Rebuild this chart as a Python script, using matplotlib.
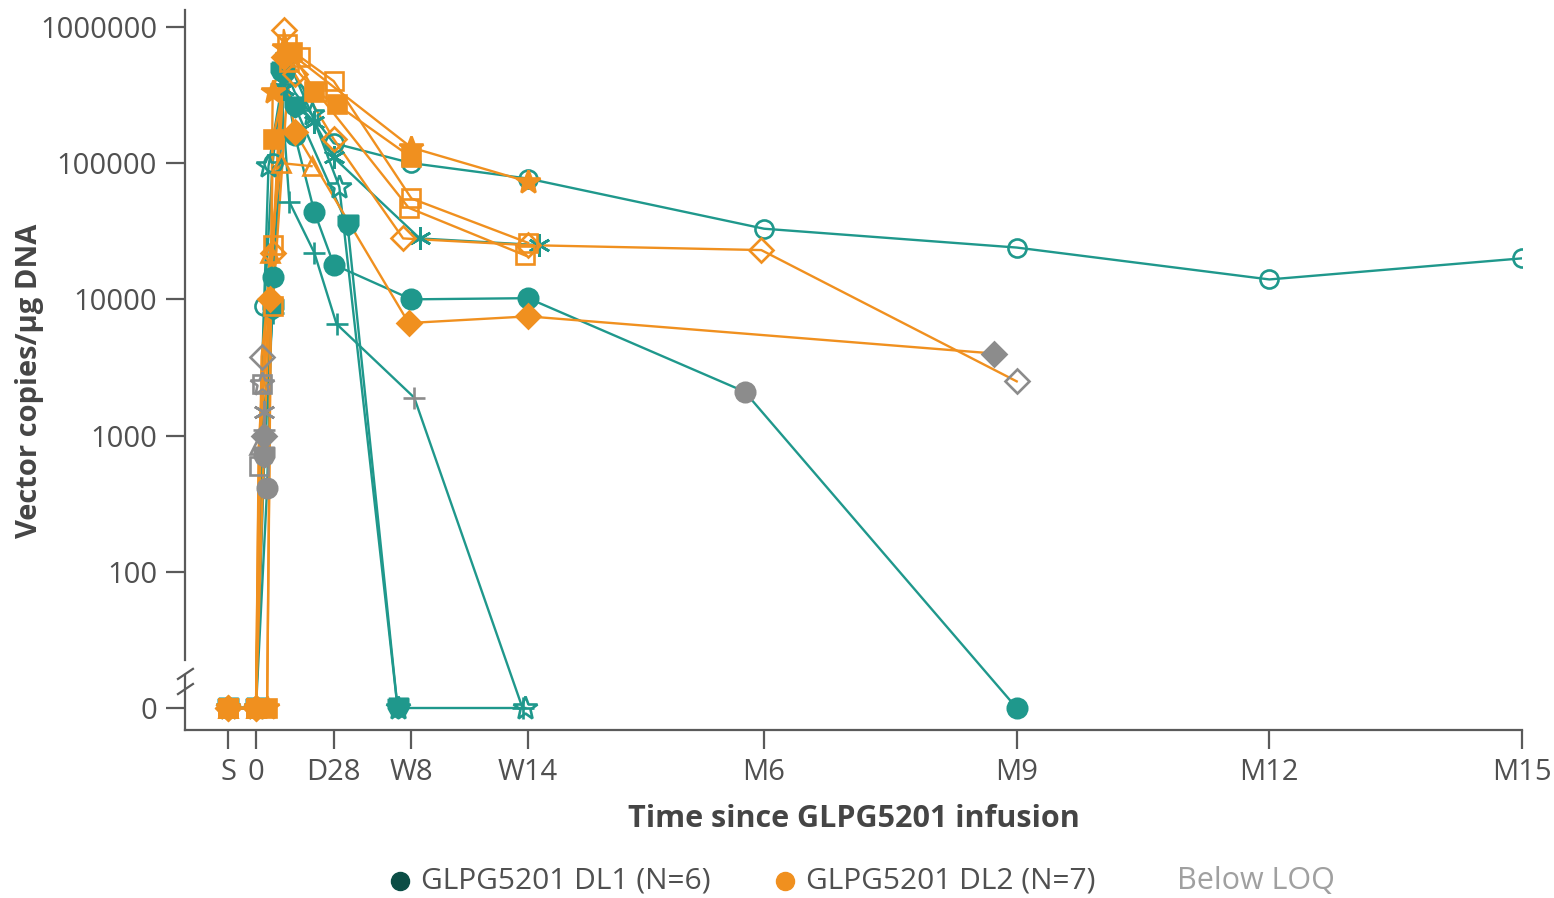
import numpy as np
import matplotlib
matplotlib.use("Agg")
import matplotlib.pyplot as plt
from matplotlib.lines import Line2D

plt.rcParams['font.family'] = ['Open Sans', 'DejaVu Sans']

# time axis: days since infusion (S = screening)
tick_days = [-10, 0, 28, 56, 98, 183, 274, 365, 456]
tick_names = ['S', '0', 'D28', 'W8', 'W14', 'M6', 'M9', 'M12', 'M15']
ytick_vals = [10, 100, 1000, 10000, 100000, 1000000]
ytick_names = ['0', '100', '1000', '10000', '100000', '1000000']

# DL1 subjects (teal)
dl1_ocircle_days = [-10, 0, 3, 6, 10, 14, 28, 56, 98, 183, 274, 365, 456]
dl1_ocircle_vals = [0, 0, 9000, 100000, 520000, 330000, 140000, 100000, 77000, 33000, 24000, 14000, 20000]
dl1_ocircle_loq = []

dl1_fcircle_days = [-10, 0, 4, 6, 10, 14, 21, 28, 56, 98, 176, 274]
dl1_fcircle_vals = [0, 0, 410, 14500, 470000, 160000, 44000, 18000, 10000, 10200, 2100, 0]
dl1_fcircle_loq = [2, 10]

dl1_star_days = [-10, 0, 2, 4.5, 11, 20, 30, 51, 97]
dl1_star_vals = [0, 0, 2400, 95000, 600000, 230000, 67000, 0, 0]
dl1_star_loq = [2]

dl1_plus_days = [-10, 0, 3, 6, 9, 12, 21, 29, 57, 96]
dl1_plus_vals = [0, 0, 1100, 8000, 380000, 52000, 22000, 6600, 1900, 0]
dl1_plus_loq = [2, 8]

dl1_ast_days = [-10, 0, 3, 6, 10, 21, 28, 59, 102]
dl1_ast_vals = [0, 0, 1500, 9000, 350000, 200000, 110000, 28000, 25000]
dl1_ast_loq = [2]

dl1_shield_days = [-10, 0, 3, 6, 9, 14, 33, 51]
dl1_shield_vals = [0, 0, 700, 8500, 470000, 260000, 35000, 0]
dl1_shield_loq = [2]

# DL2 subjects (orange)
dl2_odiamond_days = [-10, 0, 2, 6, 10, 14, 28, 53, 98, 182, 274]
dl2_odiamond_vals = [0, 0, 3800, 22000, 950000, 450000, 150000, 28000, 25000, 23000, 2500]
dl2_odiamond_loq = [2, 10]

dl2_fdiamond_days = [-10, 0, 3, 5, 10, 14, 55, 98, 266]
dl2_fdiamond_vals = [0, 0, 1000, 10000, 600000, 170000, 6700, 7500, 4000]
dl2_fdiamond_loq = [2, 8]

dl2_osquare_days = [-10, 0, 1, 6, 11, 16, 28, 56, 98]
dl2_osquare_vals = [0, 0, 600, 25000, 750000, 600000, 400000, 55000, 26000]
dl2_osquare_loq = [2]

dl2_osquare2_days = [-10, 0, 2, 6, 12, 22, 55, 97]
dl2_osquare2_vals = [0, 0, 2400, 9000, 550000, 330000, 47000, 21000]
dl2_osquare2_loq = [2]

dl2_fsquare_days = [-10, 0, 4, 6, 13, 21, 29, 56]
dl2_fsquare_vals = [0, 0, 0, 150000, 650000, 340000, 270000, 110000]
dl2_fsquare_loq = []

dl2_fstar_days = [-10, 0, 4, 6, 10, 56, 98]
dl2_fstar_vals = [0, 0, 0, 330000, 700000, 130000, 73000]
dl2_fstar_loq = []

dl2_otri_days = [-10, 0, 1, 5, 9, 20]
dl2_otri_vals = [0, 0, 850, 22000, 100000, 95000]
dl2_otri_loq = [2]

teal = '#1f988c'
orange = '#f0901f'
gray = '#8c8c8c'
txt = '#505050'

shield = [(-1, 1), (1, 1), (1, 0), (0.7, -0.55), (0, -1), (-0.7, -0.55), (-1, 0), (-1, 1)]

dl1 = [
    (dl1_ocircle_days, dl1_ocircle_vals, dl1_ocircle_loq, 'o', False, 13),
    (dl1_fcircle_days, dl1_fcircle_vals, dl1_fcircle_loq, 'o', True, 14),
    (dl1_star_days, dl1_star_vals, dl1_star_loq, '*', False, 18),
    (dl1_plus_days, dl1_plus_vals, dl1_plus_loq, '+', True, 16),
    (dl1_ast_days, dl1_ast_vals, dl1_ast_loq, (6, 2, 0), True, 16),
    (dl1_shield_days, dl1_shield_vals, dl1_shield_loq, shield, True, 14),
]
dl2 = [
    (dl2_odiamond_days, dl2_odiamond_vals, dl2_odiamond_loq, 'D', False, 12),
    (dl2_fdiamond_days, dl2_fdiamond_vals, dl2_fdiamond_loq, 'D', True, 12),
    (dl2_osquare_days, dl2_osquare_vals, dl2_osquare_loq, 's', False, 13),
    (dl2_osquare2_days, dl2_osquare2_vals, dl2_osquare2_loq, 's', False, 13),
    (dl2_fsquare_days, dl2_fsquare_vals, dl2_fsquare_loq, 's', True, 13),
    (dl2_fstar_days, dl2_fstar_vals, dl2_fstar_loq, '*', True, 18),
    (dl2_otri_days, dl2_otri_vals, dl2_otri_loq, '^', False, 13),
]

fig = plt.figure(figsize=(15.54, 8.98), dpi=100)
ax = fig.add_axes([0.119, 0.187, 0.8604, 0.802])
ax.set_yscale('log')


def draw(group, color):
    for days, vals, loq, mk, filled, ms in group:
        d = np.array(days, dtype=float)
        v = np.array(vals, dtype=float)
        v = np.where(v == 0, 10, v)  # zero drawn below the axis break
        ax.plot(d, v, color=color, lw=1.7, zorder=2)
        ok = np.array([i not in loq for i in range(len(d))])
        for mask, c in ((ok, color), (~ok, gray)):
            if not mask.any():
                continue
            ax.plot(d[mask], v[mask], ls='none', marker=mk, ms=ms,
                    mec=c, mfc=c if filled else 'none', mew=1.9, zorder=3)


draw(dl1, teal)
draw(dl2, orange)

ax.set_xlim(-25.6, 456)
ax.set_ylim(10 ** 0.838, 10 ** 6.125)
ax.set_xticks(tick_days)
ax.set_xticklabels(tick_names)
ax.set_yticks(ytick_vals)
ax.set_yticklabels(ytick_names)
ax.yaxis.set_minor_locator(matplotlib.ticker.NullLocator())
ax.tick_params(axis='both', length=14, width=1.6, color='#5a5a5a',
               labelsize=21, labelcolor=txt, pad=6)
for s in ('top', 'right', 'left'):
    ax.spines[s].set_visible(False)
ax.spines['bottom'].set_color('#5a5a5a')
ax.spines['bottom'].set_linewidth(1.6)

# left spine with break
tr = ax.transAxes
ax.plot([0, 0], [0, 0.077], transform=tr, color='#5a5a5a', lw=1.6, clip_on=False)
ax.plot([0, 0], [0.097, 1.0], transform=tr, color='#5a5a5a', lw=1.6, clip_on=False)
for y0 in (0.071, 0.050):
    ax.plot([-0.0052, 0.0060], [y0, y0 + 0.014], transform=tr, color='#5a5a5a',
            lw=1.6, clip_on=False)

fig.text(30 / 1554, 1 - 381 / 898, 'Vector copies/µg DNA', rotation=90,
         ha='center', va='center', fontsize=21, fontweight='bold', color='#454545')
fig.text(854 / 1554, 1 - 819 / 898, 'Time since GLPG5201 infusion',
         ha='center', va='center', fontsize=22, fontweight='bold', color='#454545')

# legend
ly = 1 - 881 / 898
fig.add_artist(Line2D([400 / 1554], [ly], marker='o', ms=13, color='#0b4d45',
                      ls='none', transform=fig.transFigure))
fig.add_artist(Line2D([785 / 1554], [ly], marker='o', ms=13, color=orange,
                      ls='none', transform=fig.transFigure))
fig.text(421 / 1554, ly, 'GLPG5201 DL1 (N=6)', ha='left', va='center', fontsize=21.5, color=txt)
fig.text(806 / 1554, ly, 'GLPG5201 DL2 (N=7)', ha='left', va='center', fontsize=21.5, color=txt)
fig.text(1177 / 1554, ly, 'Below LOQ', ha='left', va='center', fontsize=22, color='#a0a0a0')

fig.savefig('out.png', dpi=100)
